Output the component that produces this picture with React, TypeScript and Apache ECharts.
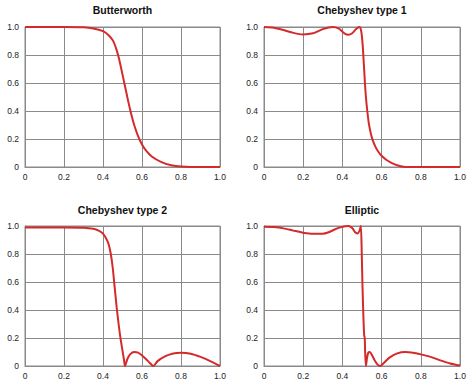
import React, { useEffect, useRef } from "react";
import * as echarts from "echarts";

const panelTitles = ["Butterworth", "Chebyshev type 1", "Chebyshev type 2", "Elliptic"];
const tickLabels = ["0", "0.2", "0.4", "0.6", "0.8", "1.0"];

const butterworthX = [0, 0.1, 0.2, 0.3, 0.35, 0.4, 0.43, 0.45, 0.46, 0.47, 0.48, 0.49, 0.5, 0.51, 0.52, 0.53, 0.54, 0.55, 0.56, 0.58, 0.6, 0.62, 0.65, 0.7, 0.75, 0.8, 0.9, 1.0];
const butterworthY = [1.0, 1.0, 1.0, 0.998, 0.99, 0.97, 0.94, 0.905, 0.875, 0.835, 0.785, 0.725, 0.66, 0.595, 0.53, 0.465, 0.405, 0.35, 0.3, 0.22, 0.16, 0.118, 0.075, 0.035, 0.013, 0.004, 0.0, 0.0];

const cheby1X = [0, 0.05, 0.1, 0.15, 0.2, 0.25, 0.3, 0.35, 0.38, 0.41, 0.43, 0.45, 0.47, 0.487, 0.496, 0.503, 0.51, 0.515, 0.52, 0.527, 0.535, 0.545, 0.555, 0.57, 0.585, 0.6, 0.625, 0.65, 0.68, 0.72, 0.8, 1.0];
const cheby1Y = [1.0, 0.995, 0.978, 0.958, 0.947, 0.955, 0.985, 1.0, 0.99, 0.955, 0.945, 0.955, 0.985, 1.0, 0.97, 0.88, 0.72, 0.6, 0.5, 0.4, 0.31, 0.24, 0.19, 0.14, 0.105, 0.08, 0.05, 0.03, 0.012, 0.0, 0.0, 0.0];

const cheby2X = [0, 0.1, 0.2, 0.3, 0.35, 0.38, 0.4, 0.42, 0.43, 0.44, 0.45, 0.46, 0.47, 0.48, 0.49, 0.5, 0.507, 0.513, 0.525, 0.54, 0.56, 0.58, 0.6, 0.62, 0.64, 0.658, 0.68, 0.72, 0.76, 0.8, 0.85, 0.9, 0.95, 1.0];
const cheby2Y = [0.99, 0.99, 0.99, 0.988, 0.98, 0.965, 0.945, 0.9, 0.865, 0.8, 0.7, 0.56, 0.42, 0.3, 0.195, 0.11, 0.05, 0.0, 0.05, 0.085, 0.1, 0.095, 0.075, 0.05, 0.022, 0.0, 0.035, 0.07, 0.09, 0.095, 0.088, 0.065, 0.035, 0.0];

const ellipticX = [0, 0.05, 0.1, 0.15, 0.2, 0.25, 0.3, 0.33, 0.36, 0.39, 0.43, 0.45, 0.465, 0.477, 0.487, 0.494, 0.498, 0.502, 0.506, 0.511, 0.514, 0.516, 0.52, 0.526, 0.532, 0.54, 0.55, 0.565, 0.58, 0.593, 0.61, 0.64, 0.68, 0.72, 0.76, 0.8, 0.85, 0.9, 0.95, 1.0];
const ellipticY = [0.995, 0.992, 0.983, 0.967, 0.952, 0.944, 0.944, 0.955, 0.975, 0.99, 1.0, 0.985, 0.955, 0.947, 0.965, 1.0, 0.85, 0.6, 0.4, 0.22, 0.2, 0.1, 0.0, 0.06, 0.095, 0.1, 0.08, 0.04, 0.01, 0.0, 0.02, 0.06, 0.09, 0.1, 0.095, 0.083, 0.065, 0.04, 0.018, 0.003];

const seriesXs = [butterworthX, cheby1X, cheby2X, ellipticX];
const seriesYs = [butterworthY, cheby1Y, cheby2Y, ellipticY];

const gridBoxes = [
  { left: 25, top: 27, width: 195, height: 140 },
  { left: 264, top: 27, width: 196, height: 140 },
  { left: 25, top: 226, width: 195, height: 140 },
  { left: 264, top: 226, width: 196, height: 140 },
];
const titleY = [10, 10, 210, 210];

const FONT = "'Liberation Sans', Arial, Helvetica, sans-serif";
const GRIDCOLOR = "#8a8a8a";
const RED = "#d42a2a";

const fmt = (v: number) => tickLabels[Math.round(v / 0.2)] ?? String(v);

export default function App() {
  const ref = useRef<HTMLDivElement>(null);
  useEffect(() => {
    if (!ref.current) return;
    const chart = echarts.init(ref.current, undefined, { renderer: "svg" });
    const axisCommon = {
      type: "value" as const,
      min: 0,
      max: 1,
      interval: 0.2,
      axisLine: { show: true, lineStyle: { color: GRIDCOLOR, width: 1 } },
      axisTick: { show: false },
      splitLine: { show: true, lineStyle: { color: GRIDCOLOR, width: 1 } },
    };
    const option: any = {
      animation: false,
      backgroundColor: "#ffffff",
      grid: gridBoxes.map((g) => ({ ...g, show: true, borderColor: GRIDCOLOR, borderWidth: 1, backgroundColor: "transparent" })),
      xAxis: gridBoxes.map((_, i) => ({
        ...axisCommon,
        gridIndex: i,
        axisLabel: { formatter: fmt, fontSize: 8.5, color: "#222", fontFamily: FONT, margin: 5 },
      })),
      yAxis: gridBoxes.map((_, i) => ({
        ...axisCommon,
        gridIndex: i,
        axisLabel: { formatter: fmt, fontSize: 8.5, color: "#222", fontFamily: FONT, margin: 6 },
      })),
      graphic: panelTitles.map((t, i) => ({
        type: "text",
        x: gridBoxes[i].left + gridBoxes[i].width / 2,
        y: titleY[i],
        style: {
          text: t,
          align: "center",
          verticalAlign: "middle",
          fontSize: 10.5,
          fontWeight: "bold",
          fontFamily: FONT,
          fill: "#111",
        },
      })),
      series: seriesXs.map((xs, i) => ({
        type: "line",
        xAxisIndex: i,
        yAxisIndex: i,
        data: xs.map((x, j) => [x, seriesYs[i][j]]),
        showSymbol: false,
        smooth: 0.25,
        lineStyle: { color: RED, width: 2 },
        itemStyle: { color: RED },
      })),
    };
    chart.setOption(option);
    return () => chart.dispose();
  }, []);
  return (
    <div
      ref={ref}
      style={{ position: "fixed", left: 0, top: 0, width: 474, height: 380, background: "#fff" }}
    />
  );
}
